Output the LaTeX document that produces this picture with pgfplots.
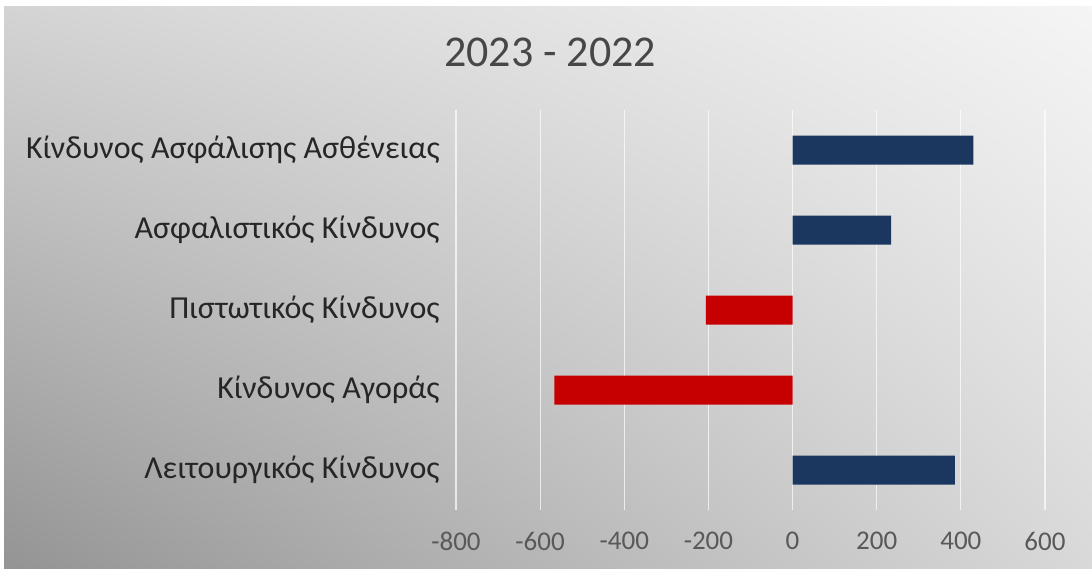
\documentclass[border=0pt]{standalone}
\usepackage{fontspec}
\setmainfont{Carlito}
\usepackage{pgfplots}
\pgfplotsset{compat=1.18}
\usetikzlibrary{shadings}
\definecolor{barblue}{HTML}{1B365F}
\definecolor{barred}{HTML}{C60000}
\definecolor{ticktxt}{HTML}{595959}
\definecolor{labtxt}{HTML}{262626}
\begin{document}
\begin{tikzpicture}[x=0.5pt,y=0.5pt]
% background panel
\fill[white] (0,0) rectangle (1092,568);
\shade[lower left=black!42, upper left=black!17, lower right=black!15, upper right=black!4]
  (4,0) rectangle (1092,561);
\node[font=\fontsize{22}{26}\selectfont, text=labtxt!85] at (550,516) {2023 - 2022};
\begin{axis}[
    at={(228pt,29pt)}, anchor=south west,
    scale only axis,
    width=294.5pt, height=200pt,
    xbar, bar width=14.5pt, bar shift=0pt,
    xmin=-800, xmax=600,
    ymin=-0.5, ymax=4.5,
    xtick={-800,-600,...,600},
    ytick={0,1,2,3,4},
    yticklabels={Λειτουργικός Κίνδυνος, Κίνδυνος Αγοράς, Πιστωτικός Κίνδυνος,
                 Ασφαλιστικός Κίνδυνος, Κίνδυνος Ασφάλισης Ασθένειας},
    axis line style={draw=none},
    major tick length=0pt,
    xmajorgrids, ymajorgrids=false,
    grid style={white, opacity=0.7, line width=0.6pt},
    /pgf/number format/assume math mode=true,
    xticklabel style={font=\fontsize{13.5}{15}\selectfont, text=ticktxt, inner sep=0pt, yshift=-11pt},
    yticklabel style={font=\fontsize{16}{18}\selectfont, text=labtxt, inner sep=0pt, xshift=-8pt},
  ]
  % positive changes
  \addplot[fill=barblue, draw=none] coordinates {(430,4) (234,3) (386,0)};
  % negative changes
  \addplot[fill=barred, draw=none] coordinates {(-206,2) (-566,1)};
\end{axis}
\end{tikzpicture}
\end{document}
